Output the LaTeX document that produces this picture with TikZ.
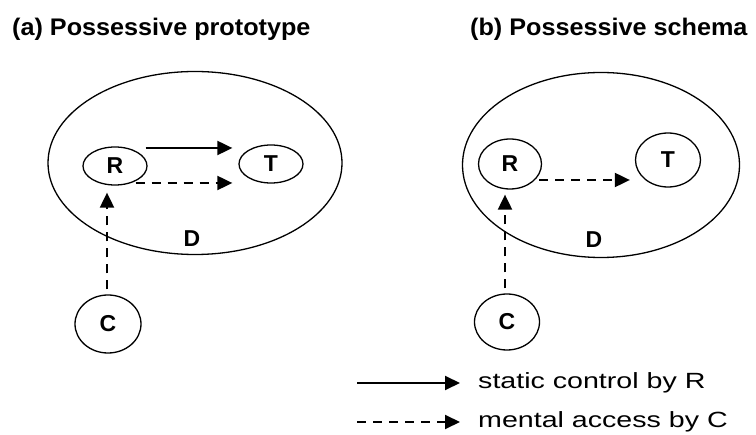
\documentclass[tikz,border=0pt]{standalone}
\usepackage{fontspec}
\setmainfont{Liberation Sans}
\newfontfamily\legendfont[FakeStretch=1.3]{Liberation Sans}
\newfontfamily\headfont[FakeStretch=1.05]{Liberation Sans}
\usetikzlibrary{shapes.geometric,arrows.meta,calc}

\tikzset{
  every picture/.style={x=1pt,y=-1pt},
  region/.style={ellipse,draw,line width=1.3pt,inner sep=0pt},
  role/.style={ellipse,draw,line width=1.3pt,inner sep=0pt,
    font=\fontsize{23}{26}\selectfont\bfseries},
  lbl/.style={font=\fontsize{23}{26}\selectfont\bfseries},
  heading/.style={anchor=west,inner sep=0pt,font=\headfont\fontsize{24}{28}\selectfont\bfseries},
  legendtext/.style={anchor=west,inner sep=0pt,font=\legendfont\fontsize{22}{26}\selectfont},
  tip/.style={-{Triangle[length=15pt,width=14pt]}},
  control/.style={tip,line width=2pt},
  access/.style={tip,line width=2pt,dash pattern=on 9pt off 7pt},
}

\begin{document}
\begin{tikzpicture}
  \useasboundingbox (0,0) rectangle (756,435);

  % headings
  \node[heading] (ha) at (12,29) {(a) Possessive prototype};
  \node[heading] (hb) at (470,29) {(b) Possessive schema};

  % (a) prototype
  \node[region,minimum width=294pt,minimum height=183pt] (Da) at (195,163) {};
  \node[lbl] (La) at (192,239) {D};
  \node[role,minimum width=64pt,minimum height=38pt] (Ra) at (115,166) {R};
  \node[role,minimum width=64pt,minimum height=38pt] (Ta) at (271,164) {T};
  \node[role,minimum width=66pt,minimum height=58pt] (Ca) at (108,324) {C};

  \draw[control] ($(Ra.east)+(-2,-18)$) -- ($(Ta.west)+(-6,-16)$);
  \draw[access] ($(Ra.east)+(-12,17)$) -- ($(Ta.west)+(-6,19)$);
  \draw[access,shorten <=5pt,shorten >=7pt] ($(Ca.north)+(-1,0)$) -- ($(Ca.north |- Ra.south)+(-1,0)$);

  % (b) schema
  \node[region,minimum width=277pt,minimum height=185pt] (Db) at (601,165) {};
  \node[lbl] (Lb) at (594,240) {D};
  \node[role,minimum width=63pt,minimum height=50pt] (Rb) at (510,164) {R};
  \node[role,minimum width=65pt,minimum height=54pt] (Tb) at (668,160) {T};
  \node[role,minimum width=65pt,minimum height=56pt] (Cb) at (507,322) {C};

  \draw[access] ($(Rb.east)+(-3,16)$) -- ($(Tb.west)+(-5,20)$);
  \draw[access,shorten <=5pt,shorten >=5pt] ($(Cb.north)+(-2,0)$) -- ($(Cb.north |- Rb.south)+(-2,0)$);

  % legend
  \coordinate (ls1) at (357,383);
  \coordinate (ls2) at (357,422);
  \node[legendtext] (lt1) at (478,383) {static control by R};
  \node[legendtext] (lt2) at (478,422) {mental access by C};
  \draw[control] (ls1) -- ($(lt1.west)+(-18,0)$);
  \draw[access] (ls2) -- ($(lt2.west)+(-18,0)$);
\end{tikzpicture}
\end{document}
